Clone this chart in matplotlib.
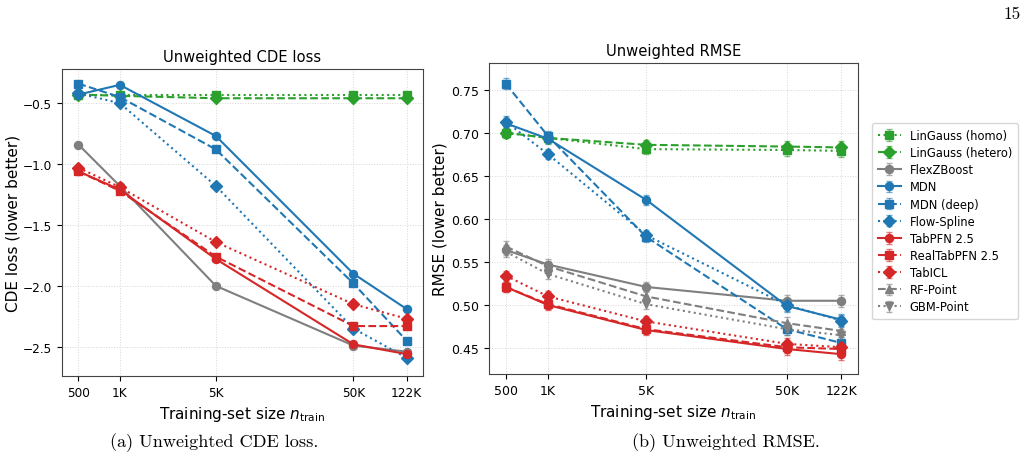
import matplotlib
matplotlib.use("Agg")
import matplotlib.pyplot as plt
import numpy as np

n_train = [500, 1000, 5000, 50000, 122000]
tick_labels = ["500", "1K", "5K", "50K", "122K"]

methods = ["LinGauss (homo)", "LinGauss (hetero)", "FlexZBoost", "MDN", "MDN (deep)",
           "Flow-Spline", "TabPFN 2.5", "RealTabPFN 2.5", "TabICL", "RF-Point", "GBM-Point"]

# CDE loss (left panel)
cde_lingauss_homo = [-0.43, -0.43, -0.43, -0.43, -0.43]
cde_lingauss_hetero = [-0.43, -0.44, -0.46, -0.46, -0.46]
cde_flexzboost = [-0.84, -1.18, -2.00, -2.49, -2.54]
cde_mdn = [-0.43, -0.35, -0.77, -1.90, -2.19]
cde_mdn_deep = [-0.34, -0.45, -0.88, -1.98, -2.45]
cde_flow_spline = [-0.42, -0.50, -1.18, -2.35, -2.59]
cde_tabpfn = [-1.06, -1.21, -1.78, -2.48, -2.56]
cde_realtabpfn = [-1.06, -1.22, -1.76, -2.33, -2.33]
cde_tabicl = [-1.03, -1.19, -1.64, -2.15, -2.27]
cde_err = [0.01, 0.01, 0.01, 0.01, 0.01]

# RMSE (right panel)
rmse_lingauss_homo = [0.700, 0.694, 0.681, 0.680, 0.679]
rmse_lingauss_hetero = [0.700, 0.694, 0.686, 0.684, 0.683]
rmse_flexzboost = [0.564, 0.547, 0.521, 0.505, 0.505]
rmse_mdn = [0.711, 0.693, 0.622, 0.499, 0.483]
rmse_mdn_deep = [0.757, 0.696, 0.579, 0.472, 0.456]
rmse_flow_spline = [0.713, 0.675, 0.581, 0.500, 0.482]
rmse_tabpfn = [0.521, 0.500, 0.471, 0.449, 0.443]
rmse_realtabpfn = [0.521, 0.501, 0.472, 0.451, 0.449]
rmse_tabicl = [0.534, 0.510, 0.481, 0.455, 0.451]
rmse_rf_point = [0.568, 0.545, 0.510, 0.479, 0.470]
rmse_gbm_point = [0.562, 0.536, 0.501, 0.472, 0.465]
rmse_err = [0.006, 0.006, 0.006, 0.007, 0.007]

GREEN, GRAY, BLUE, RED = "#2ca02c", "#7f7f7f", "#1f77b4", "#d62728"
styles = {
    "LinGauss (homo)": (GREEN, ":", "s"),
    "LinGauss (hetero)": (GREEN, "--", "D"),
    "FlexZBoost": (GRAY, "-", "o"),
    "MDN": (BLUE, "-", "o"),
    "MDN (deep)": (BLUE, "--", "s"),
    "Flow-Spline": (BLUE, ":", "D"),
    "TabPFN 2.5": (RED, "-", "o"),
    "RealTabPFN 2.5": (RED, "--", "s"),
    "TabICL": (RED, ":", "D"),
    "RF-Point": (GRAY, "--", "^"),
    "GBM-Point": (GRAY, ":", "v"),
}

cde_data = {
    "LinGauss (homo)": cde_lingauss_homo,
    "LinGauss (hetero)": cde_lingauss_hetero,
    "FlexZBoost": cde_flexzboost,
    "MDN": cde_mdn,
    "MDN (deep)": cde_mdn_deep,
    "Flow-Spline": cde_flow_spline,
    "TabPFN 2.5": cde_tabpfn,
    "RealTabPFN 2.5": cde_realtabpfn,
    "TabICL": cde_tabicl,
}
rmse_data = {
    "LinGauss (homo)": rmse_lingauss_homo,
    "LinGauss (hetero)": rmse_lingauss_hetero,
    "FlexZBoost": rmse_flexzboost,
    "MDN": rmse_mdn,
    "MDN (deep)": rmse_mdn_deep,
    "Flow-Spline": rmse_flow_spline,
    "TabPFN 2.5": rmse_tabpfn,
    "RealTabPFN 2.5": rmse_realtabpfn,
    "TabICL": rmse_tabicl,
    "RF-Point": rmse_rf_point,
    "GBM-Point": rmse_gbm_point,
}

plt.rcParams["font.family"] = ["DejaVu Sans"]
fig = plt.figure(figsize=(10.28, 4.6), dpi=100)
ax1 = fig.add_axes([0.0603, 0.1804, 0.3512, 0.6674])
ax2 = fig.add_axes([0.4757, 0.1848, 0.3590, 0.6761])


def draw(ax, data, err, title, ylabel, tick_size, ylabelpad):
    handles = {}
    for m in methods:
        if m not in data:
            continue
        c, ls, mk = styles[m]
        h = ax.errorbar(n_train, data[m], yerr=err, color=c, linestyle=ls, marker=mk,
                        markersize=5.8, linewidth=1.5, capsize=2.5, elinewidth=1.0,
                        ecolor=c, label=m)
        for bar in h[2]:
            bar.set_alpha(0.6)
        for cap in h[1]:
            cap.set_alpha(0.6)
        handles[m] = h
    ax.set_xscale("log")
    ax.set_xticks(n_train)
    ax.set_xticklabels(tick_labels)
    ax.minorticks_off()
    ax.tick_params(axis="x", which="minor", bottom=False)
    ax.tick_params(labelsize=tick_size)
    ax.set_title(title, fontsize=10.6)
    ax.set_ylabel(ylabel, fontsize=11, labelpad=ylabelpad)
    ax.set_xlabel(r"Training-set size $n_{\mathrm{train}}$", fontsize=11)
    ax.grid(True, linestyle=":", linewidth=0.7, color="#cccccc", alpha=0.8)
    for s in ax.spines.values():
        s.set_color("#444444")
    return handles


draw(ax1, cde_data, cde_err, "Unweighted CDE loss", "CDE loss (lower better)", 8.7, 2.0)
ax1.set_ylim(-2.74, -0.22)
ax1.set_yticks([-2.5, -2.0, -1.5, -1.0, -0.5])
ax1.set_yticklabels(["\u22122.5", "\u22122.0", "\u22121.5", "\u22121.0", "\u22120.5"])

h2 = draw(ax2, rmse_data, rmse_err, "Unweighted RMSE", "RMSE (lower better)", 9.0, 3.0)
ax2.set_ylim(0.420, 0.781)
ax2.set_yticks([0.45, 0.50, 0.55, 0.60, 0.65, 0.70, 0.75])
ax2.set_yticklabels(["0.45", "0.50", "0.55", "0.60", "0.65", "0.70", "0.75"])

fig.legend([h2[m] for m in methods], methods, loc="upper left",
           bbox_to_anchor=(0.848, 0.730), bbox_transform=fig.transFigure,
           fontsize=8.3, frameon=True, handlelength=2.0, labelspacing=0.36,
           borderpad=0.5, borderaxespad=0.0)

fig.text(0.1070, 0.028, "(a) Unweighted CDE loss.", family="cmr10", fontsize=13.1,
         va="baseline")
fig.text(0.6148, 0.028, "(b) Unweighted RMSE.", family="cmr10", fontsize=13.1,
         va="baseline")
fig.text(0.9765, 0.985, "15", family="cmr10", fontsize=12.5, ha="left", va="top")

fig.savefig("out.png", dpi=100)
